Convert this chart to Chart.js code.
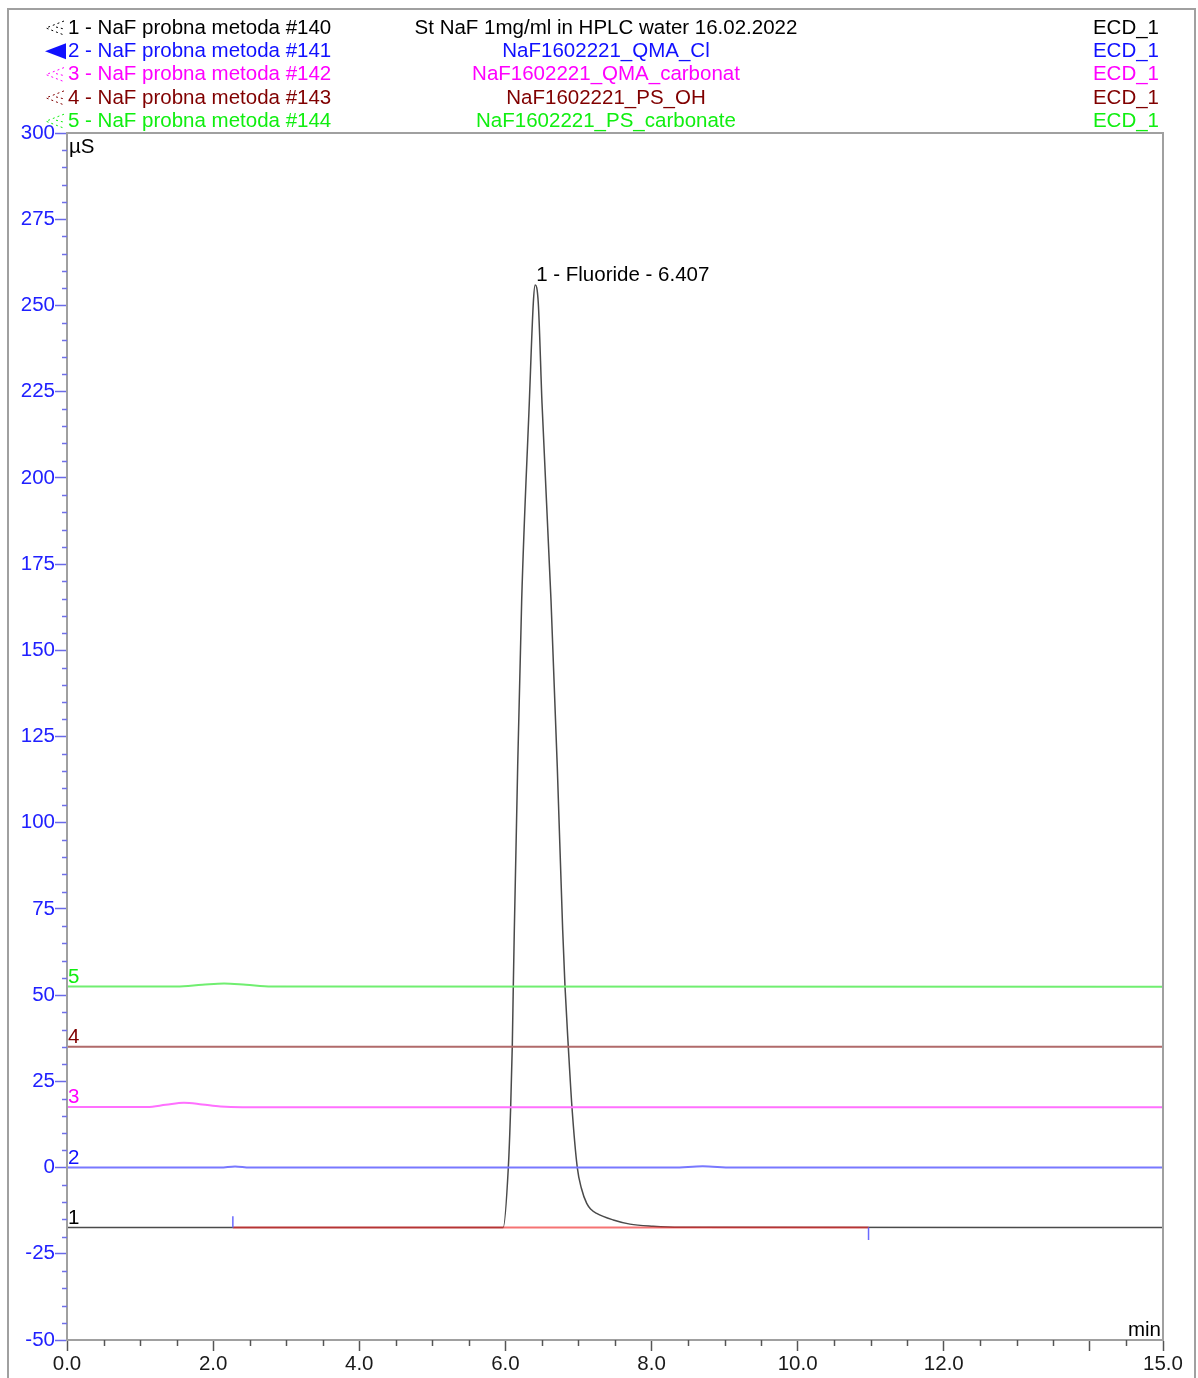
<!DOCTYPE html>
<html>
<head>
<meta charset="utf-8">
<title>NaF chromatogram</title>
<script src="https://cdn.jsdelivr.net/npm/chart.js@4.4.1/dist/chart.umd.min.js"></script>
<style>
  html, body { margin: 0; padding: 0; background: #fff; }
  #wrap { width: 1198px; height: 1378px; }
</style>
</head>
<body>
<div id="wrap"><canvas id="chromChart" width="1198" height="1378"></canvas></div>
<script>
// retention time (min) / conductivity (µS) for each injection
const trace1Time = [0, 5.97, 6.04, 6.072, 6.094, 6.108, 6.122, 6.168, 6.223, 6.327, 6.382, 6.407, 6.45, 6.501, 6.624, 6.71, 6.784, 6.816, 6.861, 6.911, 6.984, 7.04, 7.113, 7.17, 7.249, 7.477, 7.705, 8.02, 8.39, 15];
const trace1Value = [-17.4, -17.4, 0, 17.5, 35, 52.4, 68.9, 116.2, 164.6, 221.7, 250.7, 255.9, 250.7, 221.7, 164.6, 116.2, 68.9, 52.4, 35, 17.5, 0, -6.0, -10.4, -12.1, -13.3, -15.2, -16.4, -17.0, -17.3, -17.4];

const trace2Time = [0, 2.1, 2.3, 2.5, 8.3, 8.7, 9.1, 15];
const trace2Value = [0, 0, 0.3, 0, 0, 0.4, 0, 0];

const trace3Time = [0, 1.1, 1.35, 1.6, 1.85, 2.1, 2.4, 15];
const trace3Value = [17.6, 17.6, 18.2, 18.8, 18.3, 17.7, 17.5, 17.5];

const trace4Time = [0, 15];
const trace4Value = [35, 35];

const trace5Time = [0, 1.5, 1.85, 2.15, 2.45, 2.8, 15];
const trace5Value = [52.5, 52.5, 53.0, 53.4, 53.0, 52.5, 52.4];

// integration baseline and peak delimiters of the fluoride peak
const baselineTime = [2.27, 10.97];
const baselineValue = [-17.4, -17.4];
const peakStartValue = [-17.4, -14.1];
const peakEndValue = [-17.4, -21.0];

const peakName = '1 - Fluoride - 6.407';
const peakTime = 6.407;
const peakHeight = 255.9;

const sampleNames = ['1 - NaF probna metoda #140', '2 - NaF probna metoda #141', '3 - NaF probna metoda #142', '4 - NaF probna metoda #143', '5 - NaF probna metoda #144'];
const injectionNames = ['St NaF 1mg/ml in HPLC water 16.02.2022', 'NaF1602221_QMA_Cl', 'NaF1602221_QMA_carbonat', 'NaF1602221_PS_OH', 'NaF1602221_PS_carbonate'];
const channelNames = ['ECD_1', 'ECD_1', 'ECD_1', 'ECD_1', 'ECD_1'];
const traceLabels = ['1', '2', '3', '4', '5'];

const textColors = ['#000000', '#1010ff', '#ff00ff', '#800000', '#10ee10'];
const lineColors = ['#4a4a4a', '#7878ff', '#ff70ff', '#b06a6a', '#70ee70'];

const FONT = '"Liberation Sans", Arial, sans-serif';

function points(xs, ys) {
    return xs.map((x, i) => ({ x: x, y: ys[i] }));
}

const traces = [
    [trace1Time, trace1Value],
    [trace2Time, trace2Value],
    [trace3Time, trace3Value],
    [trace4Time, trace4Value],
    [trace5Time, trace5Value]
];

const datasets = traces.map(([t, v], i) => ({
    label: sampleNames[i],
    data: points(t, v),
    borderColor: lineColors[i],
    borderWidth: i === 0 ? 1.5 : 2,
    pointRadius: 0,
    cubicInterpolationMode: 'monotone',
    fill: false,
    order: 10 - i
}));

datasets.push({
    label: 'baseline',
    data: points(baselineTime, baselineValue),
    borderColor: 'rgba(240, 40, 40, 0.65)',
    borderWidth: 2,
    pointRadius: 0,
    order: 1
});
datasets.push({
    label: 'peak start',
    data: points([baselineTime[0], baselineTime[0]], peakStartValue),
    borderColor: '#6a6aff',
    borderWidth: 1.5,
    pointRadius: 0,
    order: 0
});
datasets.push({
    label: 'peak end',
    data: points([baselineTime[1], baselineTime[1]], peakEndValue),
    borderColor: '#6a6aff',
    borderWidth: 1.5,
    pointRadius: 0,
    order: 0
});

// legend rows, frame, minor ticks and text labels
const chromDecor = {
    id: 'chromDecor',
    beforeDraw(chart) {
        const c = chart.ctx;
        c.save();
        c.strokeStyle = '#a0a0a0';
        c.lineWidth = 2;
        c.beginPath();
        c.moveTo(8, 1378);
        c.lineTo(8, 9);
        c.lineTo(1195, 9);
        c.lineTo(1195, 1378);
        c.stroke();
        c.restore();
    },
    afterDraw(chart) {
        const c = chart.ctx;
        const area = chart.chartArea;
        const xs = chart.scales.x;
        const ys = chart.scales.y;
        c.save();

        // plot frame
        c.strokeStyle = '#a0a0a0';
        c.lineWidth = 2;
        c.strokeRect(area.left, area.top, area.right - area.left, area.bottom - area.top);

        // minor ticks
        c.lineWidth = 1.5;
        c.strokeStyle = '#7070e8';
        ys.ticks.forEach(t => {
            if (t.value % 25 === 0) return;
            const py = Math.round(ys.getPixelForValue(t.value)) + 0.5;
            c.beginPath();
            c.moveTo(area.left - 5, py);
            c.lineTo(area.left, py);
            c.stroke();
        });
        c.strokeStyle = '#555';
        xs.ticks.forEach(t => {
            if (t.value % 2 === 0 || t.value === 15) return;
            const px = Math.round(xs.getPixelForValue(t.value)) + 0.5;
            c.beginPath();
            c.moveTo(px, area.bottom);
            c.lineTo(px, area.bottom + 6);
            c.stroke();
        });

        // legend block
        c.font = '20.5px ' + FONT;
        c.textBaseline = 'middle';
        sampleNames.forEach((name, i) => {
            const y = 28 + i * 23.3;
            c.fillStyle = textColors[i];
            c.textAlign = 'left';
            c.fillText(name, 68, y);
            c.textAlign = 'center';
            c.fillText(injectionNames[i], 606, y);
            c.textAlign = 'right';
            c.fillText(channelNames[i], 1159, y);

            // marker in front of each sample name
            c.strokeStyle = textColors[i];
            c.fillStyle = textColors[i];
            if (i === 1) {
                c.beginPath();
                c.moveTo(45, y);
                c.lineTo(66, y - 8);
                c.lineTo(66, y + 8);
                c.closePath();
                c.fill();
            } else {
                c.lineWidth = 1;
                c.setLineDash([2, 3]);
                c.beginPath();
                c.moveTo(64, y - 7);
                c.lineTo(46, y);
                c.lineTo(64, y + 7);
                c.moveTo(56, y - 1);
                c.lineTo(64, y + 1);
                c.stroke();
                c.setLineDash([]);
            }
        });

        // trace numbers at the start of each trace
        c.textAlign = 'left';
        c.textBaseline = 'alphabetic';
        traces.forEach(([t, v], i) => {
            c.fillStyle = textColors[i];
            c.fillText(traceLabels[i], area.left + 1, ys.getPixelForValue(v[0]) - 4);
        });

        // units
        c.fillStyle = '#000';
        c.textBaseline = 'top';
        c.fillText('µS', area.left + 2, area.top + 4);
        c.textAlign = 'right';
        c.textBaseline = 'alphabetic';
        c.fillText('min', area.right - 2, area.bottom - 4);

        // peak annotation
        c.textAlign = 'left';
        c.fillText(peakName, xs.getPixelForValue(peakTime) + 1, ys.getPixelForValue(peakHeight) - 4);

        c.restore();
    }
};

new Chart(document.getElementById('chromChart').getContext('2d'), {
    type: 'line',
    data: { datasets: datasets },
    options: {
        responsive: false,
        animation: false,
        layout: { padding: { top: 133, right: 35, left: 0, bottom: 0 } },
        scales: {
            x: {
                type: 'linear',
                min: 0,
                max: 15,
                afterFit: s => { s.height = 38; },
                border: { display: true, color: '#a0a0a0', width: 2 },
                grid: {
                    drawOnChartArea: false,
                    tickLength: 11,
                    tickWidth: 1.5,
                    tickColor: ctx => (ctx.tick && (ctx.tick.value % 2 === 0 || ctx.tick.value === 15)) ? '#555' : 'rgba(0,0,0,0)'
                },
                ticks: {
                    stepSize: 0.5,
                    autoSkip: false,
                    maxRotation: 0,
                    padding: 1,
                    color: '#1a1a1a',
                    font: { size: 20.5, family: FONT },
                    callback: v => ((v % 2 === 0 && v <= 12) || v === 15) ? v.toFixed(1) : ''
                }
            },
            y: {
                min: -50,
                max: 300,
                afterFit: s => { s.width = 67; },
                border: { display: true, color: '#a0a0a0', width: 2 },
                grid: {
                    drawOnChartArea: false,
                    tickLength: 12,
                    tickWidth: 1.5,
                    tickColor: ctx => (ctx.tick && ctx.tick.value % 25 === 0) ? '#6a6ae8' : 'rgba(0,0,0,0)'
                },
                ticks: {
                    stepSize: 5,
                    autoSkip: false,
                    padding: 0,
                    color: '#2020ff',
                    font: { size: 20.5, family: FONT },
                    callback: v => v % 25 === 0 ? String(v) : ''
                }
            }
        },
        plugins: {
            legend: { display: false },
            tooltip: { enabled: false }
        }
    },
    plugins: [chromDecor]
});
</script>
</body>
</html>
